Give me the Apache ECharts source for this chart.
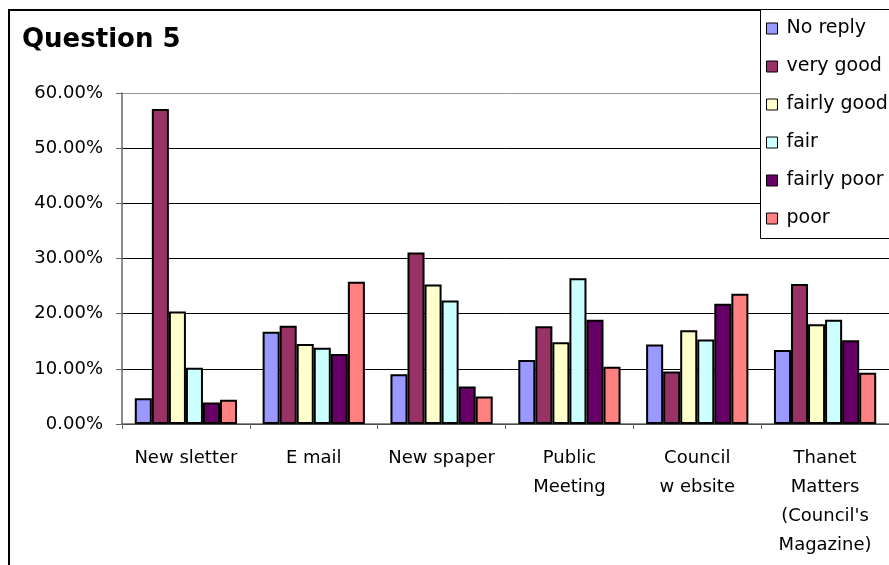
<!DOCTYPE html>
<html>
<head>
<meta charset="utf-8">
<script src="https://cdn.jsdelivr.net/npm/echarts@6/dist/echarts.min.js"></script>
<style>
html,body{margin:0;padding:0;background:#fff;}
#chart{width:889px;height:565px;}
</style>
</head>
<body>
<div id="chart"></div>
<script>
var categories = ['New sletter', 'E mail', 'New spaper', 'Public\nMeeting', 'Council\nw ebsite', 'Thanet\nMatters\n(Council\'s\nMagazine)'];
var seriesNames = ['No reply', 'very good', 'fairly good', 'fair', 'fairly poor', 'poor'];
var noReply    = [4.65, 16.7, 9.0, 11.6, 14.4, 13.4];
var veryGood   = [57.1, 17.8, 31.1, 17.7, 9.5, 25.4];
var fairlyGood = [20.4, 14.5, 25.3, 14.8, 17.0, 18.1];
var fair       = [10.2, 13.8, 22.4, 26.4, 15.3, 18.9];
var fairlyPoor = [3.9, 12.7, 6.8, 18.9, 21.8, 15.2];
var poor       = [4.4, 25.8, 5.0, 10.4, 23.6, 9.3];
var yTicks = [0, 10, 20, 30, 40, 50, 60];
var colors = ['#9999FF', '#993366', '#FFFFCC', '#CCFFFF', '#660066', '#FF8080'];

var seriesData = [noReply, veryGood, fairlyGood, fair, fairlyPoor, poor];
var font = 'DejaVu Sans, Liberation Sans, Arial, sans-serif';

var chart = echarts.init(document.getElementById('chart'));
chart.setOption({
  animation: false,
  backgroundColor: '#fff',
  color: colors,
  title: {
    text: 'Question 5',
    left: 17, top: 22,
    textStyle: { fontFamily: font, fontSize: 26, fontWeight: 'bold', color: '#000' }
  },
  graphic: [
    { type: 'rect', z: 0, silent: true,
      shape: { x: 9, y: 10, width: 900, height: 600 },
      style: { fill: 'none', stroke: '#000', lineWidth: 2 } },
    { type: 'rect', z: 50, silent: true,
      shape: { x: 760.5, y: 9.5, width: 140, height: 229 },
      style: { fill: '#fff', stroke: '#000', lineWidth: 1 } }
  ],
  legend: {
    z: 60,
    orient: 'vertical',
    left: 766, top: 18,
    padding: 0,
    itemWidth: 11, itemHeight: 11,
    itemGap: 17,
    icon: 'rect',
    itemStyle: { borderColor: '#000', borderWidth: 1 },
    textStyle: { fontFamily: font, fontSize: 19, color: '#000', lineHeight: 21, padding: [0,0,0,4] },
    data: seriesNames
  },
  grid: { left: 122, right: -1, top: 93, bottom: 141, containLabel: false },
  xAxis: {
    type: 'category',
    data: categories,
    axisLine: { lineStyle: { color: '#666', width: 1.5 } },
    axisTick: { show: true, length: 5, lineStyle: { color: '#666' } },
    axisLabel: { interval: 0, margin: 20, fontFamily: font, fontSize: 18, color: '#000', lineHeight: 29 }
  },
  yAxis: {
    type: 'value',
    min: 0, max: 60, interval: 10,
    axisLine: { show: true, lineStyle: { color: '#666', width: 1.5 } },
    axisTick: { show: true, length: 6, lineStyle: { color: '#666' } },
    axisLabel: { margin: 19, fontFamily: font, fontSize: 18, color: '#000',
      formatter: function (v) { return v.toFixed(2) + '%'; } },
    splitLine: { show: true, lineStyle: { color: ['#000','#000','#000','#000','#000','#000','#999'], width: 1 } }
  },
  series: seriesData.map(function (d, i) {
    return {
      name: seriesNames[i],
      type: 'bar',
      data: d,
      barGap: '0%',
      barCategoryGap: '20%',
      itemStyle: { color: colors[i], borderColor: '#000', borderWidth: 2 }
    };
  })
});
</script>
</body>
</html>
